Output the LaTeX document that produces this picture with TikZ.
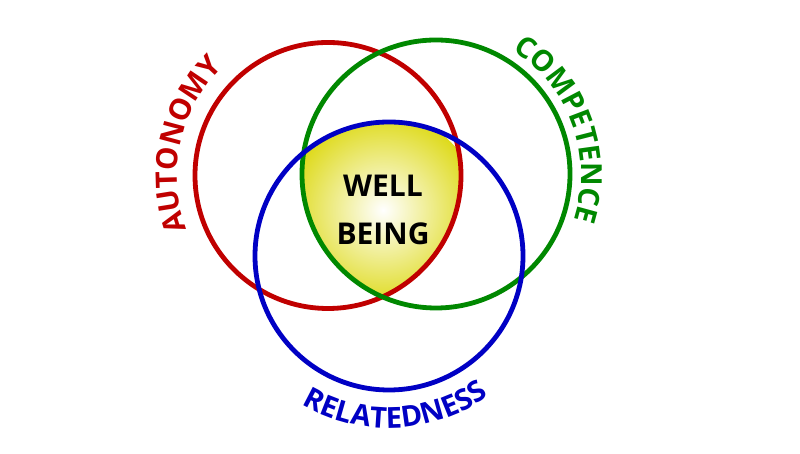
\documentclass[tikz,border=0pt]{standalone}
\usepackage{fontspec}
\setmainfont{Open Sans}
\usetikzlibrary{decorations.text}
\definecolor{tred}{RGB}{192,0,0}
\definecolor{tgreen}{RGB}{0,136,0}
\definecolor{tblue}{RGB}{0,0,196}
\definecolor{wbyellow}{RGB}{222,218,26}
\tikzset{
  ring/.style={line width=4.8pt},
  arclabel/.style={decorate, decoration={text along path, text align=center,
     text color=#1}},
}
\begin{document}
\begin{tikzpicture}[x=1pt,y=1pt]
\useasboundingbox (0,0) rectangle (800,454);
\fill[white] (0,0) rectangle (800,454);
\coordinate (R) at (328,278.5);
\coordinate (G) at (436,280);
\coordinate (B) at (389,198);
\begin{scope}
  \clip (R) circle (133);
  \clip (G) circle (134);
  \clip (B) circle (134);
  \shade[inner color=white, outer color=wbyellow] (383,244) circle (96);
\end{scope}
\draw[ring, tred] (R) circle (133);
\draw[ring, tgreen] (G) circle (134);
\draw[ring, tblue] (B) circle (134);
\node[font=\bfseries\fontsize{30}{48}\selectfont, align=center] (wb) at (383,244) {WELL\\BEING};
\path[arclabel=tred, shift={(R)}, decoration={text={|\bfseries\fontsize{29.5}{30}\selectfont|AUTONOMY}}]
  (207:151) arc[start angle=207, end angle=128, radius=151];
\path[arclabel=tgreen, shift={(G)}, decoration={text={|\bfseries\fontsize{29}{30}\selectfont|COMPETENCE}}]
  (60:145) arc[start angle=60, end angle=-20, radius=145];
\path[arclabel=tblue, shift={(B)}, decoration={text={|\bfseries\fontsize{29}{30}\selectfont|RELATEDNESS}}]
  (-125:172) arc[start angle=-125, end angle=-50, radius=172];
\end{tikzpicture}
\end{document}
